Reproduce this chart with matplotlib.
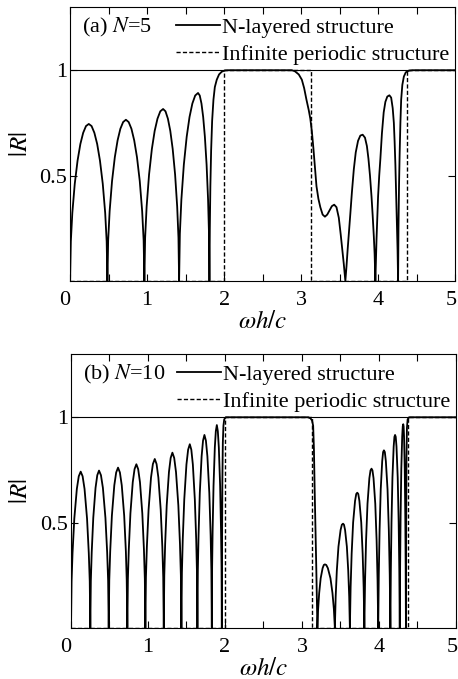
import matplotlib
matplotlib.use("Agg")
import matplotlib.pyplot as plt
import matplotlib.transforms as mtransforms
from matplotlib.ticker import MultipleLocator

plt.rcParams['font.family'] = ['Liberation Serif', 'DejaVu Serif']
plt.rcParams['mathtext.fontset'] = 'stix'

# --- data ---
# (a) N = 5 layered structure
freq_n5 = [
    0, 0.0097, 0.0292, 0.0608, 0.0972, 0.1337, 0.1701, 0.2066, 0.243, 0.2793, 0.3156, 0.3519, 0.3882, 0.4245, 0.456, 0.4753, 0.485,
    0.4946, 0.5138, 0.545, 0.581, 0.617, 0.653, 0.689, 0.725, 0.761, 0.797, 0.833, 0.869, 0.905, 0.9362, 0.9554, 0.965,
    0.9747, 0.9942, 1.0258, 1.0622, 1.0987, 1.1351, 1.1716, 1.208, 1.2392, 1.2704, 1.3016, 1.3328, 1.364, 1.391, 1.4077, 1.416,
    1.4258, 1.4455, 1.4775, 1.5144, 1.5513, 1.5882, 1.6251, 1.662, 1.6842, 1.7064, 1.7286, 1.7508, 1.773, 1.7922, 1.8041, 1.81,
    1.815, 1.822, 1.832, 1.845, 1.862, 1.88, 1.905, 1.935, 1.97, 2.01, 2.06, 2.88, 2.92, 2.97, 3.01, 3.04, 3.07, 3.10, 3.12,
    3.14, 3.16, 3.18, 3.20, 3.225, 3.25, 3.28, 3.31, 3.34, 3.37, 3.40, 3.43, 3.46, 3.49, 3.515, 3.535, 3.555, 3.575,
    3.59, 3.605, 3.62, 3.64, 3.66, 3.685, 3.71, 3.74, 3.77, 3.80, 3.83, 3.855, 3.875, 3.895, 3.915, 3.93, 3.945, 3.955, 3.965,
    3.972, 3.98, 3.99, 4.00, 4.015, 4.03, 4.05, 4.073, 4.095, 4.12, 4.147, 4.17, 4.19, 4.205, 4.215, 4.225, 4.235, 4.245, 4.253, 4.26,
    4.265, 4.272, 4.28, 4.29, 4.30, 4.315, 4.335, 4.36, 4.40, 4.45, 5.0,
]
refl_n5 = [
    0, 0.187, 0.323, 0.461, 0.571, 0.650, 0.703, 0.735, 0.745, 0.735, 0.703, 0.650, 0.571, 0.461, 0.323, 0.187, 0,
    0.192, 0.331, 0.474, 0.587, 0.667, 0.722, 0.754, 0.765, 0.754, 0.722, 0.667, 0.587, 0.474, 0.331, 0.192, 0,
    0.205, 0.353, 0.505, 0.626, 0.712, 0.770, 0.805, 0.816, 0.805, 0.770, 0.712, 0.626, 0.505, 0.353, 0.205, 0,
    0.224, 0.386, 0.552, 0.684, 0.778, 0.842, 0.880, 0.892, 0.880, 0.842, 0.778, 0.684, 0.552, 0.386, 0.224, 0,
    0.25, 0.45, 0.62, 0.76, 0.86, 0.92, 0.955, 0.98, 0.993, 0.999, 1.0, 1.0, 0.995, 0.98, 0.955, 0.915, 0.86, 0.81, 0.77,
    0.71, 0.63, 0.54, 0.45, 0.39, 0.35, 0.315, 0.305, 0.315, 0.335, 0.355, 0.362, 0.35, 0.30, 0.22, 0.15, 0.08, 0,
    0.07, 0.15, 0.22, 0.32, 0.42, 0.53, 0.61, 0.665, 0.69, 0.694, 0.68, 0.64, 0.58, 0.50, 0.40, 0.31, 0.21, 0.13, 0,
    0.10, 0.20, 0.30, 0.40, 0.50, 0.58, 0.70, 0.80, 0.85, 0.875, 0.881, 0.87, 0.82, 0.75, 0.66, 0.55, 0.41, 0.28, 0.15, 0,
    0.25, 0.45, 0.60, 0.75, 0.86, 0.93, 0.97, 0.99, 0.998, 1.0, 1.0,
]

# (b) N = 10 layered structure
freq_n10 = [
    0, 0.0076, 0.020, 0.043, 0.076, 0.101, 0.126, 0.151, 0.176, 0.2085, 0.231, 0.2435, 0.251,
    0.2578, 0.2691, 0.2894, 0.3188, 0.3414, 0.364, 0.3892, 0.4144, 0.4472, 0.4698, 0.4824, 0.49,
    0.4973, 0.5094, 0.5311, 0.5626, 0.5868, 0.611, 0.6352, 0.6594, 0.6909, 0.7126, 0.7237, 0.732,
    0.739, 0.7507, 0.7718, 0.8022, 0.8256, 0.849, 0.8724, 0.8958, 0.9262, 0.9473, 0.959, 0.966,
    0.9733, 0.9855, 1.0075, 1.0392, 1.0636, 1.088, 1.1114, 1.1348, 1.1652, 1.1863, 1.198, 1.205,
    1.2117, 1.2229, 1.2431, 1.2722, 1.2946, 1.317, 1.3404, 1.3638, 1.3942, 1.4153, 1.427, 1.434,
    1.4405, 1.4514, 1.4711, 1.4994, 1.5212, 1.543, 1.5628, 1.5826, 1.6083, 1.6262, 1.6361, 1.642,
    1.6475, 1.6566, 1.6729, 1.6966, 1.7148, 1.733, 1.7522, 1.7714, 1.7964, 1.8136, 1.8232, 1.829,
    1.8329, 1.8394, 1.8511, 1.868, 1.881, 1.894, 1.907, 1.92, 1.9369, 1.9486, 1.9551, 1.959,
    1.962, 1.966, 1.972, 1.98, 1.99, 2.01, 3.08, 3.11, 3.13, 3.145, 3.155, 3.165, 3.176, 3.186, 3.193, 3.20,
    3.2097, 3.2233, 3.2427, 3.2679, 3.2834, 3.297, 3.3152, 3.336, 3.3698, 3.3958, 3.414, 3.427,
    3.4376, 3.4524, 3.4736, 3.5012, 3.5178, 3.533, 3.5455, 3.5597, 3.5828, 3.6006, 3.6131, 3.622,
    3.6316, 3.645, 3.6642, 3.6892, 3.7046, 3.718, 3.7309, 3.7456, 3.7695, 3.7879, 3.8008, 3.81,
    3.8193, 3.8323, 3.8509, 3.8751, 3.89, 3.903, 3.9152, 3.9291, 3.9517, 3.9691, 3.9813, 3.99,
    3.9974, 4.0078, 4.0226, 4.0418, 4.0536, 4.064, 4.0758, 4.0892, 4.111, 4.1278, 4.1396, 4.148,
    4.1541, 4.1626, 4.1748, 4.1907, 4.2005, 4.209, 4.2175, 4.2273, 4.2432, 4.2554, 4.2639, 4.27,
    4.2745, 4.2808, 4.2898, 4.3015, 4.3087, 4.315, 4.3199, 4.3255, 4.3346, 4.3416, 4.3465, 4.35,
    4.353, 4.357, 4.363, 4.372, 4.39, 5.0,
]
refl_n10 = [
    0, 0.223, 0.356, 0.519, 0.660, 0.720, 0.742, 0.720, 0.660, 0.519, 0.356, 0.223, 0,
    0.224, 0.359, 0.523, 0.665, 0.725, 0.747, 0.725, 0.665, 0.523, 0.359, 0.224, 0,
    0.228, 0.365, 0.533, 0.677, 0.738, 0.761, 0.738, 0.677, 0.533, 0.365, 0.228, 0,
    0.233, 0.373, 0.544, 0.692, 0.754, 0.777, 0.754, 0.692, 0.544, 0.373, 0.233, 0,
    0.241, 0.385, 0.561, 0.714, 0.778, 0.802, 0.778, 0.714, 0.561, 0.385, 0.241, 0,
    0.250, 0.399, 0.582, 0.740, 0.807, 0.832, 0.807, 0.740, 0.582, 0.399, 0.250, 0,
    0.262, 0.419, 0.610, 0.776, 0.846, 0.872, 0.846, 0.776, 0.610, 0.419, 0.262, 0,
    0.275, 0.440, 0.641, 0.815, 0.889, 0.916, 0.889, 0.815, 0.641, 0.440, 0.275, 0,
    0.289, 0.462, 0.674, 0.857, 0.934, 0.963, 0.934, 0.857, 0.674, 0.462, 0.289, 0,
    0.40, 0.70, 0.88, 0.96, 0.99, 1.0, 1.0, 0.995, 0.985, 0.96, 0.85, 0.65, 0.465, 0.28, 0.15, 0,
    0.090, 0.166, 0.236, 0.284, 0.299, 0.302, 0.299, 0.284, 0.236, 0.166, 0.090, 0,
    0.149, 0.272, 0.386, 0.465, 0.490, 0.495, 0.490, 0.465, 0.386, 0.272, 0.149, 0,
    0.193, 0.353, 0.501, 0.603, 0.636, 0.642, 0.636, 0.603, 0.501, 0.353, 0.193, 0,
    0.227, 0.416, 0.590, 0.711, 0.748, 0.756, 0.748, 0.711, 0.590, 0.416, 0.227, 0,
    0.253, 0.464, 0.658, 0.792, 0.835, 0.843, 0.835, 0.792, 0.658, 0.464, 0.253, 0,
    0.275, 0.504, 0.714, 0.861, 0.907, 0.916, 0.907, 0.861, 0.714, 0.504, 0.275, 0,
    0.290, 0.532, 0.754, 0.909, 0.957, 0.967, 0.957, 0.909, 0.754, 0.532, 0.290, 0,
    0.45, 0.80, 0.95, 0.99, 1.0, 1.0,
]

# infinite periodic structure (band gaps)
freq_inf = [0, 2.0, 2.0, 3.135, 3.135, 4.378, 4.378, 5.0]
refl_inf = [0, 0, 1, 1, 0, 0, 1, 1]

x_ticks = [0, 1, 2, 3, 4, 5]
x_tick_labels = ['0', '1', '2', '3', '4', '5']
y_ticks = [0.5, 1]
y_tick_labels = ['0.5', '1']

panels = [
    ('(a) $N$=5', freq_n5, refl_n5),
    ('(b) $N$=10', freq_n10, refl_n10),
]

fig = plt.figure(figsize=(4.58, 6.79), dpi=100)
axes = [fig.add_axes([0.153, 0.5862, 0.8406, 0.4035]),
        fig.add_axes([0.155, 0.0751, 0.8406, 0.4035])]

for ax, (tag, freq, refl) in zip(axes, panels):
    ax.plot(freq, refl, color='black', lw=1.3, label='N-layered structure')
    ax.plot(freq_inf, refl_inf, color='black', lw=1.0, ls=(0, (3, 1.6)),
            label='Infinite periodic structure')
    ax.axhline(1.0, color='black', lw=0.8)

    ax.set_xlim(0, 5)
    ax.set_ylim(0, 1.3)
    ax.set_xticks(x_ticks, x_tick_labels)
    ax.xaxis.set_minor_locator(MultipleLocator(0.5))
    ax.set_yticks(y_ticks, y_tick_labels)
    ax.tick_params(which='both', direction='in', top=True, right=True,
                   length=5, width=0.8, labelsize=16)
    ax.tick_params(axis='x', pad=7)
    ax.tick_params(axis='y', pad=2)
    xt = ax.get_xticklabels()
    xt[0].set_horizontalalignment('right')
    # nudge the last label so it stays inside the figure
    xt[-1].set_transform(xt[-1].get_transform() +
                         mtransforms.ScaledTranslation(-4 / 100, 0, fig.dpi_scale_trans))
    for sp in ax.spines.values():
        sp.set_linewidth(0.8)

    ax.set_xlabel(r'$\omega h/c$', fontsize=18)
    ax.xaxis.set_label_coords(0.5, -0.11)
    ax.set_ylabel(r'$|R|$', fontsize=18)
    ax.yaxis.set_label_coords(-0.10, 0.5)

    ax.text(0.03, 0.927, tag, transform=ax.transAxes, fontsize=16, va='center')
    ax.legend(loc='upper right', bbox_to_anchor=(1.011, 1.0), frameon=False,
              fontsize=16, handlelength=1.95, handletextpad=0.1,
              labelspacing=0.3, borderpad=0.45, borderaxespad=0)

fig.savefig('out.png', dpi=100)
